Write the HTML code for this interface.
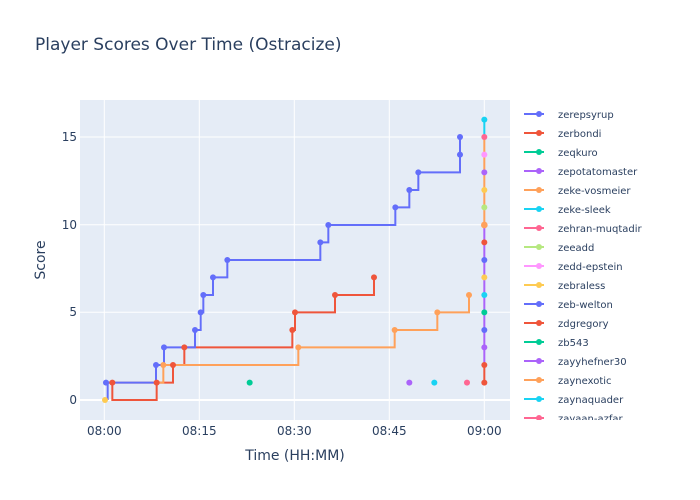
<!DOCTYPE html>
<html><head><meta charset="utf-8"><style>body{margin:0;background:#fff}svg{display:block;font-family:"DejaVu Sans","Liberation Sans",sans-serif}</style></head><body>
<svg width="700" height="500" xmlns="http://www.w3.org/2000/svg">
<rect width="700" height="500" fill="#fff"/>
<text x="35" y="50" font-size="17" fill="#2a3f5f">Player Scores Over Time (Ostracize)</text>
<rect x="80" y="100" width="430" height="320" fill="#e5ecf6"/>
<g stroke="#fff" stroke-width="1">
<line x1="80" x2="510" y1="400" y2="400" stroke-width="2"/><line x1="80" x2="510" y1="312.3" y2="312.3"/><line x1="80" x2="510" y1="224.7" y2="224.7"/><line x1="80" x2="510" y1="137" y2="137"/>
<line x1="104.3" x2="104.3" y1="100" y2="420"/><line x1="199.3" x2="199.3" y1="100" y2="420"/><line x1="294.3" x2="294.3" y1="100" y2="420"/><line x1="389.3" x2="389.3" y1="100" y2="420"/><line x1="484.3" x2="484.3" y1="100" y2="420"/>
</g>
<g font-size="12" fill="#2a3f5f" text-anchor="end">
<text x="77" y="404">0</text><text x="77" y="316">5</text><text x="77" y="229">10</text><text x="77" y="141">15</text></g>
<g font-size="12" fill="#2a3f5f" text-anchor="middle">
<text x="104.3" y="435">08:00</text><text x="199.3" y="435">08:15</text><text x="294.3" y="435">08:30</text><text x="389.3" y="435">08:45</text><text x="484.3" y="435">09:00</text></g>
<text x="295" y="460" font-size="14" fill="#2a3f5f" text-anchor="middle">Time (HH:MM)</text>
<text transform="translate(45,260) rotate(-90)" font-size="14" fill="#2a3f5f" text-anchor="middle">Score</text>
<g transform="translate(80,100) scale(0.33333)" fill="none" stroke-width="6">
<path d="M97,848 V900 H230 V848 H279 V795 H313 V742 H637 V690 H645 V637 H765 V585 H882 V532" stroke="#EF553B"/>
<path d="M80,848 H250 V795 H655 V742 H944 V690 H1072 V637 H1167 V585" stroke="#FFA15A"/>
<path d="M78,848 H83 V900 M83,848 H228 V795 H252 V742 H345 V690 H362 V637 H370 V585 H399 V532 H442 V480 H721 V427 H745 V375 H946 V322 H988 V270 H1015 V217 H1140 V164 V111" stroke="#636efa"/>
<path d="M1213,848 V795" stroke="#EF553B"/>
<path d="M1213,795 V375" stroke="#ab63fa"/>
<path d="M1213,375 V111" stroke="#FFA15A"/>
<path d="M1213,111 V59" stroke="#19d3f3"/>
<g stroke="none" fill="#636efa">
<circle cx="78" cy="848" r="9"/><circle cx="228" cy="795" r="9"/><circle cx="252" cy="742" r="9"/><circle cx="345" cy="690" r="9"/><circle cx="362" cy="637" r="9"/><circle cx="370" cy="585" r="9"/><circle cx="399" cy="532" r="9"/><circle cx="442" cy="480" r="9"/><circle cx="721" cy="427" r="9"/><circle cx="745" cy="375" r="9"/><circle cx="946" cy="322" r="9"/><circle cx="988" cy="270" r="9"/><circle cx="1015" cy="217" r="9"/><circle cx="1140" cy="164" r="9"/><circle cx="1140" cy="111" r="9"/></g>
<g stroke="none" fill="#EF553B">
<circle cx="97" cy="848" r="9"/><circle cx="230" cy="848" r="9"/><circle cx="279" cy="795" r="9"/><circle cx="313" cy="742" r="9"/><circle cx="637" cy="690" r="9"/><circle cx="645" cy="637" r="9"/><circle cx="765" cy="585" r="9"/><circle cx="882" cy="532" r="9"/></g>
<g stroke="none" fill="#FFA15A">
<circle cx="250" cy="795" r="9"/><circle cx="655" cy="742" r="9"/><circle cx="944" cy="690" r="9"/><circle cx="1072" cy="637" r="9"/><circle cx="1167" cy="585" r="9"/></g>
<g stroke="none">
<circle cx="75" cy="900" r="9" fill="#FECB52"/><circle cx="509" cy="848" r="9" fill="#00cc96"/><circle cx="988" cy="848" r="9" fill="#ab63fa"/><circle cx="1063" cy="848" r="9" fill="#19d3f3"/><circle cx="1161" cy="848" r="9" fill="#FF6692"/>
<circle cx="1213" cy="848" r="9" fill="#EF553B"/><circle cx="1213" cy="795" r="9" fill="#EF553B"/><circle cx="1213" cy="742" r="9" fill="#ab63fa"/><circle cx="1213" cy="690" r="9" fill="#636efa"/><circle cx="1213" cy="637" r="9" fill="#00cc96"/><circle cx="1213" cy="585" r="9" fill="#19d3f3"/><circle cx="1213" cy="532" r="9" fill="#FECB52"/><circle cx="1213" cy="480" r="9" fill="#636efa"/><circle cx="1213" cy="427" r="9" fill="#EF553B"/><circle cx="1213" cy="375" r="10" fill="#FFA15A"/><circle cx="1213" cy="322" r="9" fill="#B6E880"/><circle cx="1213" cy="270" r="9" fill="#FECB52"/><circle cx="1213" cy="217" r="9" fill="#ab63fa"/><circle cx="1213" cy="164" r="9" fill="#FF97FF"/><circle cx="1213" cy="111" r="9" fill="#FF6692"/><circle cx="1213" cy="59" r="9" fill="#19d3f3"/></g>
</g>
<svg x="515" y="100" width="185" height="320">
<g font-size="10" fill="#2a3f5f" stroke-width="2">
<g transform="translate(0,14)"><line x1="9" x2="29" stroke="#636efa"/><circle cx="24" r="3" fill="#636efa"/><text x="43" y="4">zerepsyrup</text></g>
<g transform="translate(0,33)"><line x1="9" x2="29" stroke="#EF553B"/><circle cx="24" r="3" fill="#EF553B"/><text x="43" y="4">zerbondi</text></g>
<g transform="translate(0,52)"><line x1="9" x2="29" stroke="#00cc96"/><circle cx="24" r="3" fill="#00cc96"/><text x="43" y="4">zeqkuro</text></g>
<g transform="translate(0,71)"><line x1="9" x2="29" stroke="#ab63fa"/><circle cx="24" r="3" fill="#ab63fa"/><text x="43" y="4">zepotatomaster</text></g>
<g transform="translate(0,90)"><line x1="9" x2="29" stroke="#FFA15A"/><circle cx="24" r="3" fill="#FFA15A"/><text x="43" y="4">zeke-vosmeier</text></g>
<g transform="translate(0,109)"><line x1="9" x2="29" stroke="#19d3f3"/><circle cx="24" r="3" fill="#19d3f3"/><text x="43" y="4">zeke-sleek</text></g>
<g transform="translate(0,128)"><line x1="9" x2="29" stroke="#FF6692"/><circle cx="24" r="3" fill="#FF6692"/><text x="43" y="4">zehran-muqtadir</text></g>
<g transform="translate(0,147)"><line x1="9" x2="29" stroke="#B6E880"/><circle cx="24" r="3" fill="#B6E880"/><text x="43" y="4">zeeadd</text></g>
<g transform="translate(0,166)"><line x1="9" x2="29" stroke="#FF97FF"/><circle cx="24" r="3" fill="#FF97FF"/><text x="43" y="4">zedd-epstein</text></g>
<g transform="translate(0,185)"><line x1="9" x2="29" stroke="#FECB52"/><circle cx="24" r="3" fill="#FECB52"/><text x="43" y="4">zebraless</text></g>
<g transform="translate(0,204)"><line x1="9" x2="29" stroke="#636efa"/><circle cx="24" r="3" fill="#636efa"/><text x="43" y="4">zeb-welton</text></g>
<g transform="translate(0,223)"><line x1="9" x2="29" stroke="#EF553B"/><circle cx="24" r="3" fill="#EF553B"/><text x="43" y="4">zdgregory</text></g>
<g transform="translate(0,242)"><line x1="9" x2="29" stroke="#00cc96"/><circle cx="24" r="3" fill="#00cc96"/><text x="43" y="4">zb543</text></g>
<g transform="translate(0,261)"><line x1="9" x2="29" stroke="#ab63fa"/><circle cx="24" r="3" fill="#ab63fa"/><text x="43" y="4">zayyhefner30</text></g>
<g transform="translate(0,280)"><line x1="9" x2="29" stroke="#FFA15A"/><circle cx="24" r="3" fill="#FFA15A"/><text x="43" y="4">zaynexotic</text></g>
<g transform="translate(0,299)"><line x1="9" x2="29" stroke="#19d3f3"/><circle cx="24" r="3" fill="#19d3f3"/><text x="43" y="4">zaynaquader</text></g>
<g transform="translate(0,318)"><line x1="9" x2="29" stroke="#FF6692"/><circle cx="24" r="3" fill="#FF6692"/><text x="43" y="4">zayaan-azfar</text></g>
</g></svg>
</svg>
</body></html>
